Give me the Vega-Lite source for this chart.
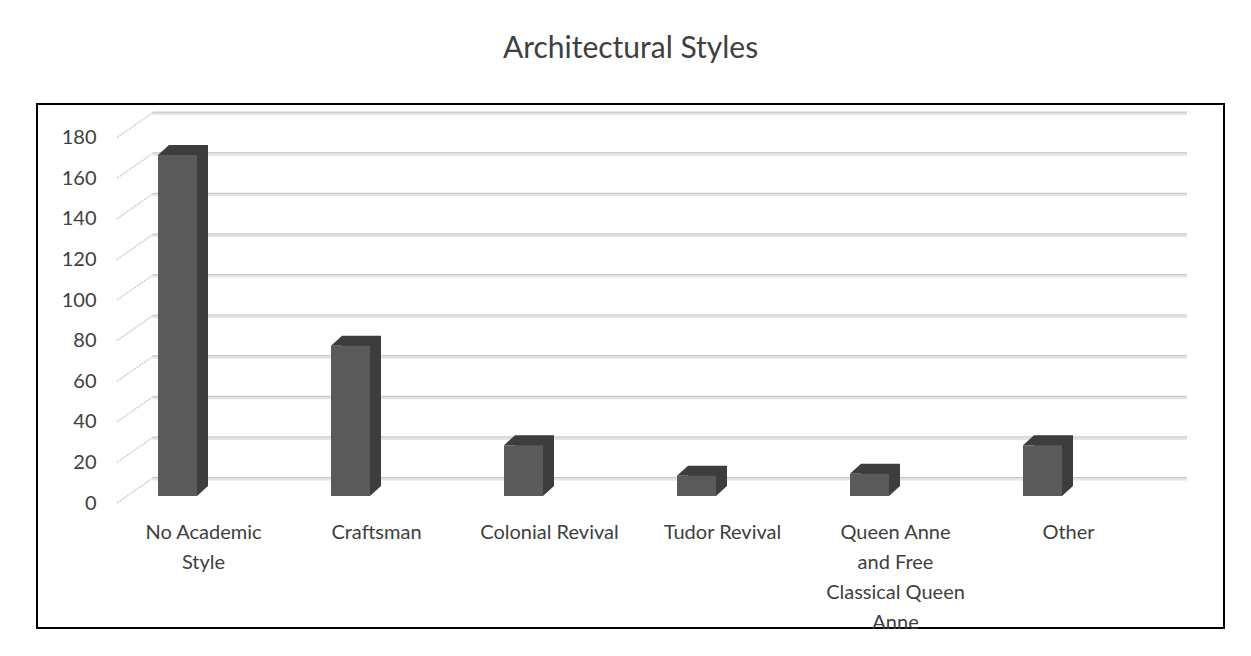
{
  "$schema": "https://vega.github.io/schema/vega-lite/v6.json",
  "width": 1187,
  "height": 524,
  "autosize": "none",
  "padding": {"left": 37, "top": 104, "right": 27, "bottom": 28},
  "background": "white",
  "config": {"view": {"stroke": "#000000", "strokeWidth": 2}, "font": "Lato"},
  "title": {"text": "Architectural Styles", "fontSize": 30, "font": "Lato", "fontWeight": "normal", "color": "#404040", "anchor": "middle", "baseline": "alphabetic", "offset": 16},
  "datasets": {
    "styles": [
      {"style": "No Academic Style", "count": 168},
      {"style": "Craftsman", "count": 74},
      {"style": "Colonial Revival", "count": 25},
      {"style": "Tudor Revival", "count": 10},
      {"style": "Queen Anne and Free Classical Queen Anne", "count": 11},
      {"style": "Other", "count": 25}
    ],
    "ticks": [
      {"count": 0}, {"count": 20}, {"count": 40}, {"count": 60}, {"count": 80},
      {"count": 100}, {"count": 120}, {"count": 140}, {"count": 160}, {"count": 180}
    ]
  },
  "encoding": {
    "y": {
      "field": "count",
      "type": "quantitative",
      "scale": {"domain": [0, 180], "range": [392, 26.6]},
      "axis": {
        "title": null,
        "values": [0, 20, 40, 60, 80, 100, 120, 140, 160, 180],
        "grid": false,
        "ticks": false,
        "tickSize": 0,
        "domain": false,
        "labelPadding": 0,
        "offset": -59,
        "labelOffset": 7,
        "labelFontSize": 20,
        "labelFont": "Lato",
        "labelColor": "#404040"
      }
    }
  },
  "layer": [
    {
      "data": {"name": "ticks"},
      "encoding": {
        "x": {"datum": 0, "type": "quantitative", "scale": {"domain": [0, 1], "range": [80, 1114]}, "axis": null}
      },
      "layer": [
        {
          "mark": {"type": "rule", "color": "#cfcfcf", "strokeWidth": 1.5, "strokeDash": [2, 1], "x2Offset": 36, "yOffset": 7, "y2Offset": -18},
          "encoding": {"x2": {"datum": 0}, "y2": {"field": "count"}}
        },
        {
          "mark": {"type": "rule", "color": "#e4e4e4", "strokeWidth": 3, "xOffset": 36, "x2Offset": 36, "yOffset": -17},
          "encoding": {"x2": {"datum": 1}}
        },
        {
          "mark": {"type": "rule", "color": "#c4c4c4", "strokeWidth": 1, "xOffset": 36, "x2Offset": 36, "yOffset": -18.5},
          "encoding": {"x2": {"datum": 1}}
        }
      ]
    },
    {
      "data": {"name": "styles"},
      "encoding": {
        "x": {
          "field": "style",
          "type": "nominal",
          "sort": null,
          "scale": {"range": [80, 1118], "paddingInner": 0, "paddingOuter": 0},
          "axis": {
            "title": null,
            "ticks": false,
            "tickSize": 0,
            "domain": false,
            "labelPadding": 0,
            "offset": -106,
            "labelAngle": 0,
            "labelFontSize": 20,
            "labelFont": "Lato",
            "labelLineHeight": 30,
            "labelColor": "#404040",
            "labelOverlap": false,
            "labelLimit": 400,
            "labelExpr": "datum.value === 'No Academic Style' ? ['No Academic', 'Style'] : datum.value === 'Queen Anne and Free Classical Queen Anne' ? ['Queen Anne', 'and Free', 'Classical Queen', 'Anne'] : datum.label"
          }
        }
      },
      "layer": [
        {
          "mark": {"type": "bar", "width": 39, "xOffset": -15, "yOffset": -10, "y2Offset": -10, "color": "#3d3d3d"}
        },
        {
          "mark": {"type": "point", "shape": "M0,0L11,-10L11,0Z", "size": 4, "filled": true, "opacity": 1, "strokeWidth": 0, "color": "#3d3d3d", "xOffset": -45.5}
        },
        {
          "mark": {"type": "point", "shape": "M0,0L0,-10L11,-10Z", "size": 4, "filled": true, "opacity": 1, "strokeWidth": 0, "color": "#3d3d3d", "xOffset": -6.5},
          "encoding": {"y": {"datum": 0}}
        },
        {
          "mark": {"type": "bar", "width": 39, "xOffset": -26, "color": "#5a5a5a"}
        }
      ]
    }
  ],
  "resolve": {"scale": {"x": "independent"}}
}
